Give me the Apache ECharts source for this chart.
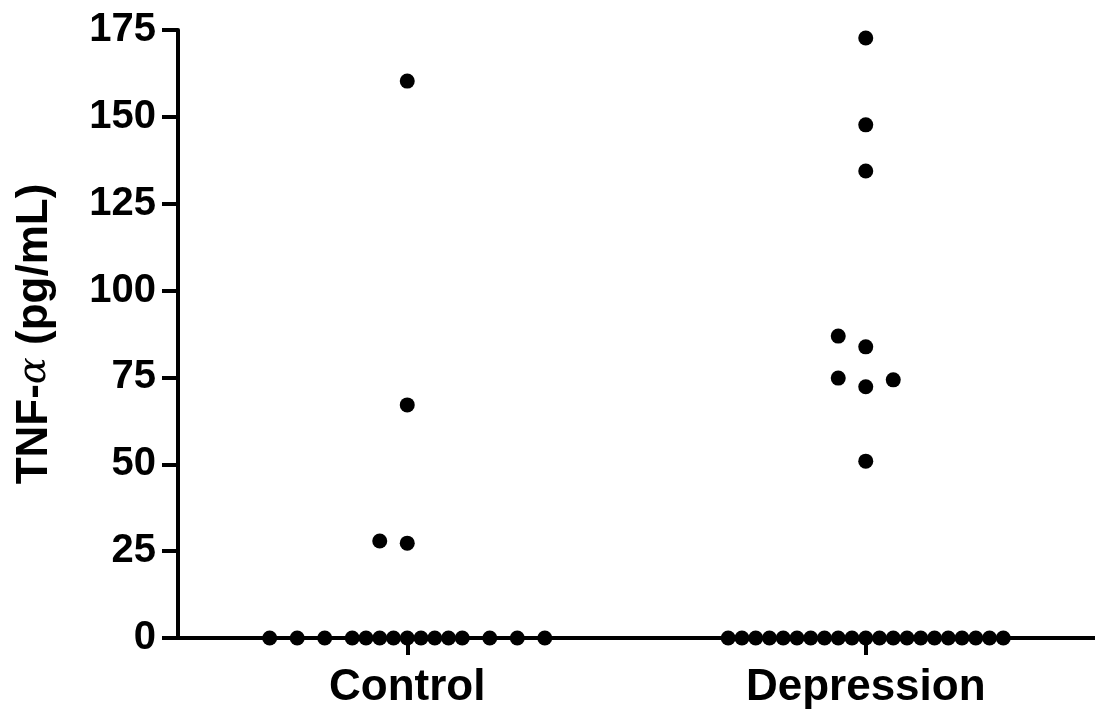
<!DOCTYPE html>
<html>
<head>
<meta charset="utf-8">
<script src="https://cdn.jsdelivr.net/npm/echarts@6/dist/echarts.min.js"></script>
<style>html,body{margin:0;padding:0;background:#fff;}#c{width:1095px;height:715px;}</style>
</head>
<body>
<div id="c"></div>
<script>
const groups = ['Control', 'Depression'];
const yTicks = [0, 25, 50, 75, 100, 125, 150, 175];
const controlValues = [0,0,0,0,0,0,0,0,0,0,0,0,0,0,0, 27.3, 27.9, 67.1, 160.3];
const controlSlots  = [-10,-8,-6,-4,-3,-2,-1,0,1,2,3,4,6,8,10, 0, -2, 0, 0];
const depressionValues = [0,0,0,0,0,0,0,0,0,0,0,0,0,0,0,0,0,0,0,0,0, 50.9, 72.3, 74.3, 74.8, 83.8, 86.9, 134.4, 147.7, 172.7];
const depressionSlots  = [-10,-9,-8,-7,-6,-5,-4,-3,-2,-1,0,1,2,3,4,5,6,7,8,9,10, 0, 0, 2, -2, 0, -2, 0, 0, 0];

const PITCH = 0.030; // horizontal spacing of stacked dots, in group units
function build(gi, vals, slots) {
  return vals.map((v, i) => [gi + slots[i] * PITCH, v]);
}
const points = build(0, controlValues, controlSlots).concat(build(1, depressionValues, depressionSlots));

const FONT = '"Liberation Sans", Arial, Helvetica, sans-serif';
const chart = echarts.init(document.getElementById('c'), null, {renderer: 'canvas'});
chart.setOption({
  animation: false,
  backgroundColor: '#ffffff',
  grid: {left: 178, right: 0, top: 30, bottom: 77, containLabel: false, outerBoundsMode: 'none'},
  xAxis: {
    type: 'value', min: -0.5, max: 1.5,
    splitLine: {show: false},
    axisLine: {show: true, onZero: false, lineStyle: {color: '#000', width: 4}},
    axisTick: {show: true, customValues: [0, 1], length: 17, lineStyle: {color: '#000', width: 4}},
    axisLabel: {show: true, customValues: [0, 1], margin: 28,
      formatter: v => groups[Math.round(v)] || '',
      color: '#000', fontFamily: FONT, fontWeight: 'bold', fontSize: 44}
  },
  yAxis: {
    type: 'value', min: 0, max: 175, interval: 25,
    splitLine: {show: false},
    axisLine: {show: true, onZero: false, lineStyle: {color: '#000', width: 4}},
    axisTick: {show: true, length: 16, lineStyle: {color: '#000', width: 4}},
    axisLabel: {margin: 22, color: '#000', fontFamily: FONT, fontWeight: 'bold', fontSize: 40,
      formatter: v => (yTicks.indexOf(v) >= 0 ? String(v) : '')},
    name: '{b|TNF-}{a|α}{b| (pg/mL)}',
    nameLocation: 'middle', nameGap: 121, nameRotate: 90,
    nameTextStyle: {
      rich: {
        b: {color: '#000', fontFamily: FONT, fontWeight: 'bold', fontSize: 44},
        a: {color: '#000', fontFamily: '"DejaVu Serif", serif', fontStyle: 'italic', fontWeight: 'normal', fontSize: 40}
      }
    }
  },
  series: [{
    type: 'scatter',
    data: points,
    symbol: 'circle',
    symbolSize: 15,
    itemStyle: {color: '#000', opacity: 1},
    z: 5
  }]
});
</script>
</body>
</html>
